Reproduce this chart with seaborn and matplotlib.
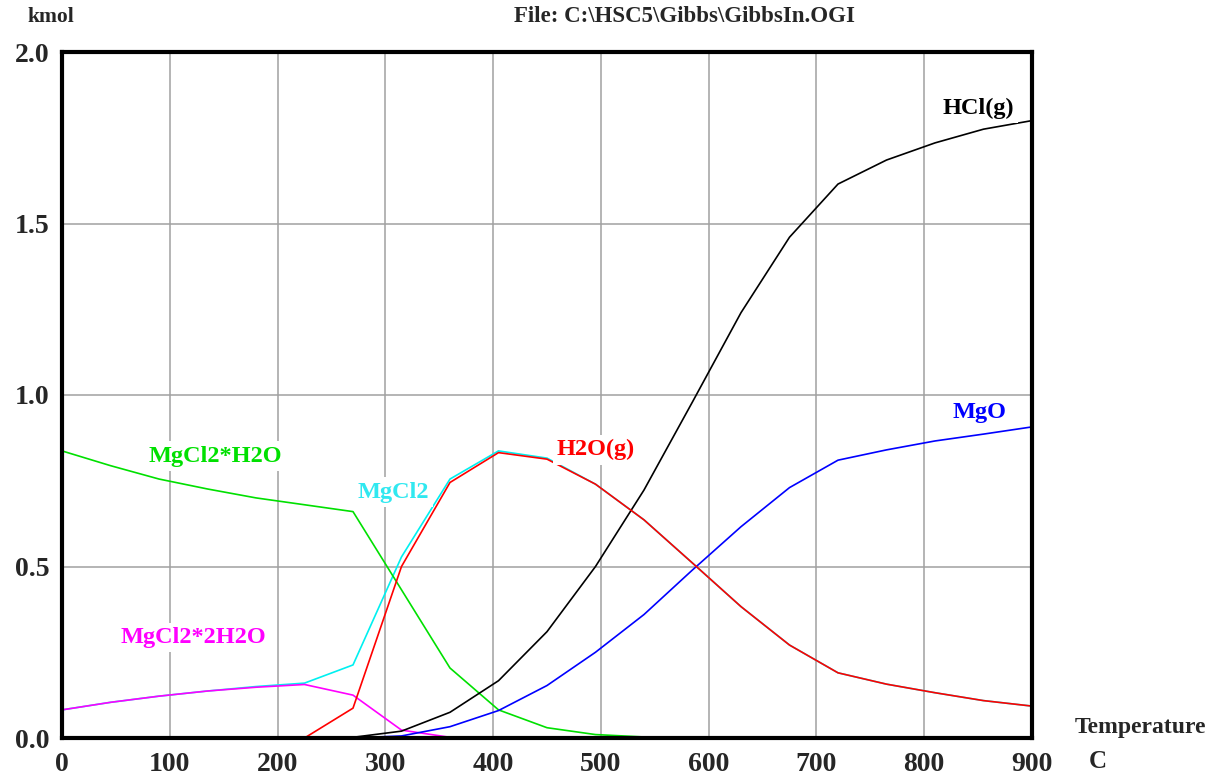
import matplotlib
matplotlib.use("Agg")
import matplotlib.pyplot as plt
import pandas as pd
import seaborn as sns

# Gibbs equilibrium, amounts in kmol vs temperature (C)
temperature = [0, 45, 90, 135, 180, 225, 270, 315, 360, 405, 450,
               495, 540, 585, 630, 675, 720, 765, 810, 855, 900]
hcl_g = [0, 0, 0, 0, 0, 0, 0.002, 0.02, 0.075, 0.167, 0.31,
         0.50, 0.723, 0.98, 1.24, 1.46, 1.615, 1.685, 1.735, 1.775, 1.80]
mgo = [0, 0, 0, 0, 0, 0, 0, 0.006, 0.033, 0.08, 0.153,
       0.25, 0.36, 0.49, 0.616, 0.73, 0.81, 0.84, 0.866, 0.886, 0.907]
h2o_g = [0, 0, 0, 0, 0, 0, 0.087, 0.50, 0.745, 0.832, 0.813,
         0.74, 0.636, 0.51, 0.383, 0.271, 0.19, 0.157, 0.132, 0.109, 0.093]
mgcl2 = [0.082, 0.104, 0.122, 0.137, 0.150, 0.160, 0.213, 0.528, 0.755, 0.837, 0.816,
         0.74, 0.636, 0.51, 0.383, 0.271, 0.19, 0.157, 0.132, 0.109, 0.093]
mgcl2_h2o = [0.837, 0.794, 0.755, 0.726, 0.70, 0.68, 0.66, 0.432, 0.204, 0.082, 0.03,
             0.01, 0.003, 0, 0, 0, 0, 0, 0, 0, 0]
mgcl2_2h2o = [0.082, 0.104, 0.122, 0.137, 0.148, 0.156, 0.125, 0.023, 0.002, 0, 0,
              0, 0, 0, 0, 0, 0, 0, 0, 0, 0]

species = ["MgCl2", "MgCl2*2H2O", "MgCl2*H2O", "MgO", "HCl(g)", "H2O(g)"]
colors = {"MgCl2": "#00f0f0", "MgCl2*2H2O": "#ff00ff", "MgCl2*H2O": "#00e000",
          "MgO": "#0000ff", "HCl(g)": "#000000", "H2O(g)": "#ff0000"}
series = {"MgCl2": mgcl2, "MgCl2*2H2O": mgcl2_2h2o, "MgCl2*H2O": mgcl2_h2o,
          "MgO": mgo, "HCl(g)": hcl_g, "H2O(g)": h2o_g}

df = pd.concat([pd.DataFrame({"T": temperature, "kmol": v, "species": k})
                for k, v in series.items()], ignore_index=True)

# label positions (data coords, left edge)
label_pos = {"HCl(g)": (817, 1.837), "MgO": (826, 0.95), "H2O(g)": (459, 0.84),
             "MgCl2": (274, 0.717), "MgCl2*H2O": (80, 0.822), "MgCl2*2H2O": (54, 0.292)}

sns.set_style("white")
plt.rcParams["font.family"] = ["Liberation Serif", "DejaVu Serif"]
plt.rcParams["font.weight"] = "bold"

fig = plt.figure(figsize=(12.11, 7.75), dpi=100)
ax = fig.add_axes([62 / 1211, 1 - 738 / 775, (1032 - 62) / 1211, (738 - 52) / 775])

sns.lineplot(data=df, x="T", y="kmol", hue="species", hue_order=species,
             palette=colors, estimator=None, sort=False, linewidth=1.2,
             legend=False, ax=ax, zorder=3)

ax.set_xlim(0, 900)
ax.set_ylim(0, 2.0)
ax.set_xticks(range(0, 901, 100))
ax.set_yticks([0, 0.5, 1.0, 1.5, 2.0])
ax.set_yticklabels(["0.0", "0.5", "1.0", "1.5", "2.0"])
ax.tick_params(length=0, labelsize=20, pad=9)
ax.tick_params(axis="x", pad=10)
for lbl in ax.get_xticklabels() + ax.get_yticklabels():
    lbl.set_fontweight("bold")
ax.grid(True, color="#a0a0a0", linewidth=1.1, zorder=1)
ax.set_axisbelow(True)
for s in ax.spines.values():
    s.set_linewidth(3)
    s.set_color("black")
    s.set_zorder(5)
ax.set_xlabel("")
ax.set_ylabel("")

for name, (lx, ly) in label_pos.items():
    ax.text(lx, ly, name, color=colors[name] if name != "MgCl2" else "#30e8f0",
            fontsize=17.5, fontweight="bold", va="center", ha="left", zorder=4,
            bbox=dict(facecolor="white", edgecolor="none", pad=3))

fig.text(28 / 1211, 1 - 17 / 775, "kmol", fontsize=15.5, fontweight="bold", va="center")
fig.text(685 / 1211, 1 - 17 / 775, r"File: C:\HSC5\Gibbs\GibbsIn.OGI",
         fontsize=16.5, fontweight="bold", va="center", ha="center")
fig.text(1075 / 1211, 1 - 727 / 775, "Temperature", fontsize=17, fontweight="bold", va="center")
fig.text(1089 / 1211, 1 - 762 / 775, "C", fontsize=18, fontweight="bold", va="center")

fig.savefig("out.png", dpi=100)
